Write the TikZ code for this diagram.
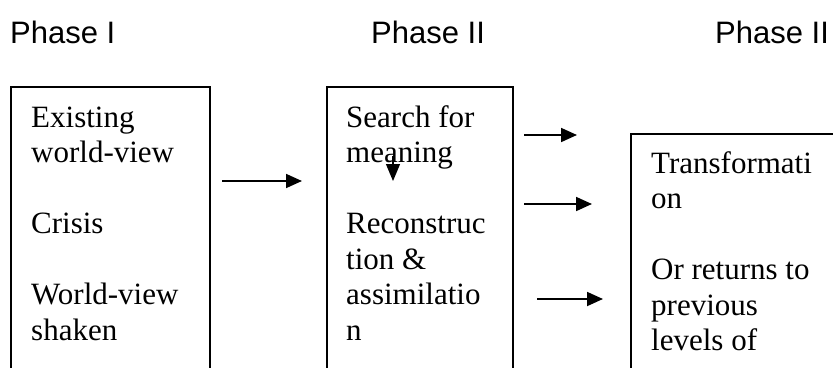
\documentclass[tikz,border=0pt]{standalone}
\usepackage{fontspec}
\setmainfont{Liberation Serif}
\newfontfamily\headfont{Liberation Sans}
\usetikzlibrary{arrows.meta}

\begin{document}
\begin{tikzpicture}[x=1pt,y=1pt,
  phasebox/.style={draw,line width=1.8pt,inner sep=0pt,anchor=north west},
  heading/.style={inner sep=0pt,anchor=base west,font=\headfont\fontsize{31}{36}\selectfont},
  % multi-line nodes: base anchor sits on the last line
  boxtext/.style={inner sep=0pt,anchor=base west,align=left,
    font=\fontsize{31}{35.5}\selectfont},
  flow/.style={line width=1.8pt,-{Triangle[length=16pt,width=14pt]}}]

\useasboundingbox (0,0) rectangle (833,-367);
\fill[white] (0,0) rectangle (833,-367);
\clip (0,0) rectangle (833,-367);

% column headings
\node[heading] (h1) at (10,-43) {Phase I};
\node[heading] (h2) at (371,-43) {Phase II};
\node[heading] (h3) at (715,-43) {Phase II};

% the three boxes (they run on below the lower edge)
\node[phasebox,minimum width=199pt,minimum height=320pt] (b1) at (10,-86) {};
\node[phasebox,minimum width=186pt,minimum height=320pt] (b2) at (326,-86) {};
\node[phasebox,minimum width=260pt,minimum height=300pt] (b3) at (630,-133) {};

% box contents
\node[boxtext] (t1) at (31,-340)
  {Existing\\world-view\\\mbox{}\\Crisis\\\mbox{}\\World-view\\shaken};
\node[boxtext] (t2) at (346,-340)
  {Search for\\meaning\\\mbox{}\\Reconstruc\\tion \&\\assimilatio\\n};
\node[boxtext] (t3) at (651,-350.5)
  {Transformati\\on\\\mbox{}\\Or returns to\\previous\\levels of};

% arrow ends
\coordinate (a1s) at (222,-181);
\coordinate (a1e) at (302,-181);
\coordinate (d1s) at (393,-156);
\coordinate (d1e) at (393,-181);
\coordinate (r1s) at (524,-135);
\coordinate (r1e) at (577,-135);
\coordinate (r2s) at (524,-204);
\coordinate (r2e) at (592,-204);
\coordinate (r3s) at (537,-299);
\coordinate (r3e) at (603,-299);

\draw[flow] (a1s) -- (a1e);
\draw[line width=1.2pt,-{Triangle[length=17pt,width=14pt]}] (d1s) -- (d1e);
\draw[flow] (r1s) -- (r1e);
\draw[flow] (r2s) -- (r2e);
\draw[flow] (r3s) -- (r3e);
\end{tikzpicture}
\end{document}
